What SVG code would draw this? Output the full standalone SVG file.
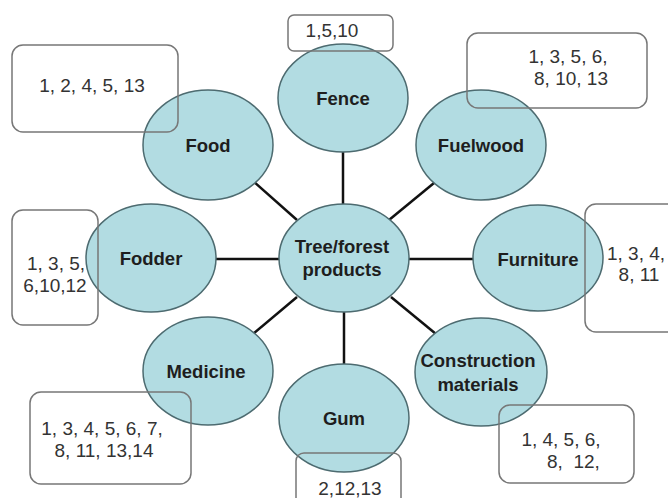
<svg xmlns="http://www.w3.org/2000/svg" width="668" height="498" viewBox="0 0 668 498">
<style>
.node ellipse{fill:#b2dce2;stroke:#4d6b70;stroke-width:1.5}
.lbl{font-family:"Liberation Sans",Arial,sans-serif;font-weight:bold;font-size:18.5px;fill:#1e1e1e;text-anchor:middle}
.box{fill:none;stroke:#777;stroke-width:1.5}
.num{font-family:"Liberation Sans",Arial,sans-serif;font-size:19px;fill:#333;text-anchor:middle}
.conn line{stroke:#111;stroke-width:2.5}
</style>
<rect width="668" height="498" fill="#fff"/>
<g id="connectors" class="conn">
<line x1="343" y1="152" x2="343" y2="204"/>
<line x1="253" y1="181" x2="297" y2="220"/>
<line x1="434" y1="183" x2="389" y2="220"/>
<line x1="216" y1="259" x2="279" y2="259"/>
<line x1="409" y1="259" x2="473" y2="259"/>
<line x1="297" y1="297" x2="253" y2="334"/>
<line x1="391" y1="297" x2="436" y2="334"/>
<line x1="344" y1="312" x2="344" y2="364"/>
</g>
<g id="center" class="node"><ellipse cx="344" cy="258" rx="65" ry="54"/><text class="lbl" x="342" y="253">Tree/forest</text><text class="lbl" x="342" y="276">products</text></g>
<g id="fence" class="node"><ellipse cx="343" cy="98" rx="65" ry="54"/><text class="lbl" x="343" y="105">Fence</text></g>
<g id="food" class="node"><ellipse cx="208" cy="145" rx="65" ry="55"/><text class="lbl" x="208" y="152">Food</text></g>
<g id="fuelwood" class="node"><ellipse cx="481" cy="145" rx="65" ry="55"/><text class="lbl" x="481" y="152">Fuelwood</text></g>
<g id="fodder" class="node"><ellipse cx="151" cy="258" rx="65" ry="54"/><text class="lbl" x="151" y="265">Fodder</text></g>
<g id="furniture" class="node"><ellipse cx="538" cy="258" rx="65" ry="53"/><text class="lbl" x="538" y="266">Furniture</text></g>
<g id="medicine" class="node"><ellipse cx="208" cy="371" rx="65" ry="54"/><text class="lbl" x="206" y="378">Medicine</text></g>
<g id="gum" class="node"><ellipse cx="344" cy="418" rx="65" ry="54"/><text class="lbl" x="344" y="425">Gum</text></g>
<g id="construction" class="node"><ellipse cx="481" cy="372" rx="66" ry="54"/><text class="lbl" x="478" y="367">Construction</text><text class="lbl" x="478" y="391">materials</text></g>
<g id="box-food"><rect class="box" x="12" y="45" width="166" height="87" rx="11"/><text class="num" x="92" y="92">1, 2, 4, 5, 13</text></g>
<g id="box-fence"><rect class="box" x="288" y="15" width="105" height="36" rx="6"/><text class="num" x="332" y="37">1,5,10</text></g>
<g id="box-fuelwood"><rect class="box" x="467" y="33" width="180" height="75" rx="11"/><text class="num" x="568" y="63">1, 3, 5, 6,</text><text class="num" x="571" y="85">8, 10, 13</text></g>
<g id="box-fodder"><rect class="box" x="12" y="210" width="86" height="115" rx="11"/><text class="num" x="56" y="270">1, 3, 5,</text><text class="num" x="55" y="292">6,10,12</text></g>
<g id="box-furniture"><rect class="box" x="585" y="204" width="95" height="128" rx="11"/><text class="num" x="607" y="260" style="text-anchor:start">1, 3, 4,</text><text class="num" x="639" y="281">8, 11</text></g>
<g id="box-medicine"><rect class="box" x="30" y="392" width="161" height="92" rx="11"/><text class="num" x="102" y="435">1, 3, 4, 5, 6, 7,</text><text class="num" x="104" y="457">8, 11, 13,14</text></g>
<g id="box-gum"><rect class="box" x="296" y="453" width="105" height="60" rx="8"/><text class="num" x="350" y="495">2,12,13</text></g>
<g id="box-construction"><rect class="box" x="499" y="405" width="135" height="78" rx="11"/><text class="num" x="561" y="446">1, 4, 5, 6,</text><text class="num" x="547" y="468" style="text-anchor:start" xml:space="preserve">8,  12,</text></g>
</svg>
